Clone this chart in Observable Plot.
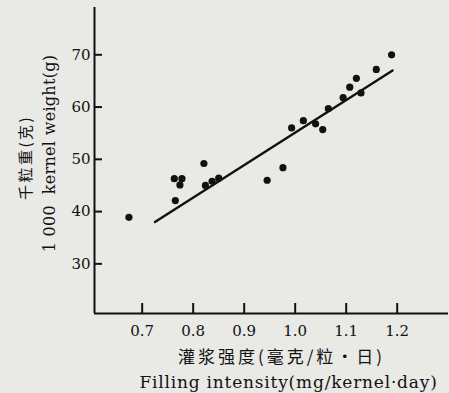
<!DOCTYPE html>
<html><head><meta charset="utf-8">
<script src="https://cdn.jsdelivr.net/npm/d3@7"></script>
<script src="https://cdn.jsdelivr.net/npm/@observablehq/plot@0.6"></script>
<style>
html,body{margin:0;padding:0;background:#e9e9e6;}
svg{display:block;}
</style></head><body><div id="chart"></div>
<script>
const intensity = [0.674, 0.765, 0.763, 0.778, 0.774, 0.821, 0.824, 0.837, 0.850, 0.945, 0.976, 0.993, 1.016, 1.040, 1.054, 1.065, 1.094, 1.107, 1.120, 1.129, 1.159, 1.189];
const weight = [38.9, 42.1, 46.3, 46.3, 45.1, 49.2, 45.0, 45.8, 46.4, 46.0, 48.4, 56.0, 57.4, 56.8, 55.7, 59.7, 61.8, 63.8, 65.5, 62.7, 67.2, 70.0];
const fitX = [0.725, 1.191];
const fitY = [38.0, 67.0];
const xTicks = [0.7, 0.8, 0.9, 1.0, 1.1, 1.2];
const yTicks = [30, 40, 50, 60, 70];
const xDomain = [0.6065, 1.3006];
const yDomain = [20.5, 79.05];
const xLabelZh = "灌浆强度(毫克/粒·日)";
const xLabelEn = "Filling intensity(mg/kernel·day)";
const yLabelZh = "千粒重(克)";
const yLabelEn = "1 000  kernel weight(g)";

const points = intensity.map((x, i) => ({x, y: weight[i]}));
const fit = fitX.map((x, i) => ({x, y: fitY[i]}));
const ink = "#111111";
const serif = "'DejaVu Serif', serif";
const cjk = "'Noto Sans CJK SC', sans-serif";
const W = 449, H = 393, mL = 94, mR = 1, mT = 7, mB = 80;
// inward tick lengths (px) expressed in data units of each scale
const xTickLen = 10 * (yDomain[1] - yDomain[0]) / (H - mT - mB);
const yTickLen = 8 * (xDomain[1] - xDomain[0]) / (W - mL - mR);

const chart = Plot.plot({
  width: W,
  height: H,
  marginLeft: mL,
  marginRight: mR,
  marginTop: mT,
  marginBottom: mB,
  style: {fontFamily: serif, fontSize: "15px", color: ink, background: "transparent"},
  x: {domain: xDomain, ticks: xTicks, tickSize: 0, tickPadding: 12, tickFormat: d3.format(".1f"), label: null},
  y: {domain: yDomain, ticks: yTicks, tickSize: 0, tickPadding: 4, label: null},
  marks: [
    Plot.ruleY([yDomain[0]], {stroke: ink, strokeWidth: 2}),
    Plot.ruleX([xDomain[0]], {stroke: ink, strokeWidth: 2}),
    Plot.ruleX(xTicks, {x: d => d, y1: yDomain[0], y2: yDomain[0] + xTickLen, stroke: ink, strokeWidth: 2}),
    Plot.ruleY(yTicks, {y: d => d, x1: xDomain[0], x2: xDomain[0] + yTickLen, stroke: ink, strokeWidth: 2}),
    Plot.line(fit, {x: "x", y: "y", stroke: ink, strokeWidth: 2.4}),
    Plot.dot(points, {x: "x", y: "y", r: 3.6, fill: ink, stroke: "none"}),
    Plot.text([xLabelZh], {text: d => d, frameAnchor: "bottom", lineAnchor: "middle", textAnchor: "middle", dx: 10, dy: 44, fontSize: 17, fontFamily: cjk, fill: ink}),
    Plot.text([xLabelEn], {text: d => d, frameAnchor: "bottom", lineAnchor: "middle", textAnchor: "middle", dx: 17, dy: 69, fontSize: 17, fontFamily: serif, fill: ink}),
    Plot.text([yLabelZh], {text: d => d, frameAnchor: "left", lineAnchor: "middle", textAnchor: "middle", rotate: -90, dx: -68, dy: -3, fontSize: 15, fontFamily: cjk, fill: ink}),
    Plot.text([yLabelEn], {text: d => d, frameAnchor: "left", lineAnchor: "middle", textAnchor: "middle", rotate: -90, dx: -45, dy: -7, fontSize: 16, fontFamily: serif, fill: ink})
  ]
});
const spacing = new Map([[xLabelZh, 3], [xLabelEn, 0.8], [yLabelZh, 2.5], [yLabelEn, 0.3]]);
chart.querySelectorAll("text").forEach(t => {
  const s = spacing.get(t.textContent);
  if (s != null) t.setAttribute("letter-spacing", s);
});
document.getElementById("chart").appendChild(chart);
</script></body></html>
